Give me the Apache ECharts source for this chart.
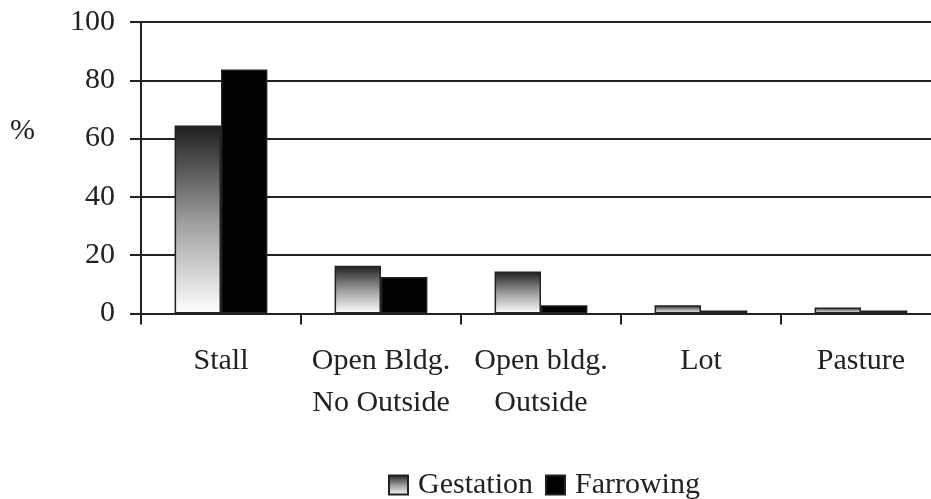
<!DOCTYPE html>
<html>
<head>
<meta charset="utf-8">
<script src="https://cdn.jsdelivr.net/npm/echarts@6/dist/echarts.min.js"></script>
<style>
  html, body { margin: 0; padding: 0; background: #fff; overflow: hidden; }
  /* wider than the window: the plot runs past the right edge, as in the original */
  #mainChart { width: 945px; height: 499px; }
</style>
</head>
<body>
<div id="mainChart"></div>
<script>
// housing type for sows, % of farms
var categories = ['Stall', 'Open Bldg.\nNo Outside', 'Open bldg.\nOutside', 'Lot', 'Pasture'];
var gestation = [64.5, 16.4, 14.4, 2.8, 2.1];
var farrowing = [83.7, 12.5, 2.8, 1.0, 1.0];
var seriesNames = ['Gestation', 'Farrowing'];

var serif = "'Liberation Serif', 'Times New Roman', serif";
var ink = '#222';

var myChart = echarts.init(document.getElementById('mainChart'));
var option = {
	backgroundColor : '#ffffff',
	animation : false,
	textStyle : { fontFamily : serif },
	grid : { left : 141, right : 4, top : 22, bottom : 185.5 },
	legend : {
		left : 388,
		top : 470,
		icon : 'rect',
		itemWidth : 19,
		itemHeight : 19,
		itemGap : 12,
		padding : 0,
		textStyle : { fontFamily : serif, fontSize : 30, color : ink, padding : [0, 0, 0, 5] },
		data : seriesNames
	},
	graphic : [ {
		type : 'text',
		left : 10,
		top : 116,
		style : { text : '%', font : '30px ' + serif, fill : ink }
	} ],
	xAxis : {
		type : 'category',
		data : categories,
		axisLine : { lineStyle : { color : ink, width : 2 } },
		axisTick : { show : true, length : 11, lineStyle : { color : ink, width : 2 } },
		axisLabel : {
			interval : 0,
			fontFamily : serif,
			fontSize : 30,
			color : ink,
			lineHeight : 42,
			margin : 27
		}
	},
	yAxis : {
		type : 'value',
		min : 0,
		max : 100,
		interval : 20,
		axisLine : { show : true, lineStyle : { color : ink, width : 2 } },
		axisTick : { show : true, length : 11, lineStyle : { color : ink, width : 2 } },
		axisLabel : { fontFamily : serif, fontSize : 30, color : ink, margin : 26 },
		splitLine : { show : true, lineStyle : { color : ink, width : 2 } }
	},
	series : [ {
		name : seriesNames[0],
		type : 'bar',
		data : gestation,
		barGap : '0%',
		barCategoryGap : '42%',
		itemStyle : {
			borderColor : ink,
			borderWidth : 1.5,
			color : new echarts.graphic.LinearGradient(0, 0, 0, 1, [
				{ offset : 0, color : '#1e1e1e' },
				{ offset : 0.5, color : '#9a9a9a' },
				{ offset : 1, color : '#ffffff' }
			])
		}
	}, {
		name : seriesNames[1],
		type : 'bar',
		data : farrowing,
		itemStyle : { borderColor : ink, borderWidth : 1.5, color : '#000000' }
	} ]
};
myChart.setOption(option, true);
</script>
</body>
</html>
